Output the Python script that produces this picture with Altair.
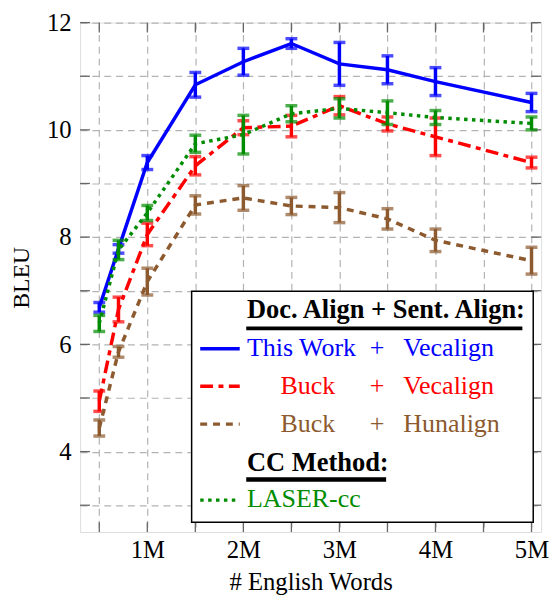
import altair as alt
import pandas as pd

# ---------------- data ----------------
words_m = [0.5, 0.7, 1, 1.5, 2, 2.5, 3, 3.5, 4, 5]

this_work_vecalign = [6.69, 7.78, 9.39, 10.84, 11.27, 11.61, 11.23, 11.12, 10.90, 10.51]
this_work_vecalign_err = [0.09, 0.08, 0.13, 0.23, 0.25, 0.09, 0.40, 0.26, 0.26, 0.17]

buck_vecalign = [4.94, 6.65, 8.05, 9.33, 10.04, 10.07, 10.45, 10.11, 9.87, 9.39]
buck_vecalign_err = [0.19, 0.23, 0.21, 0.17, 0.13, 0.20, 0.17, 0.13, 0.35, 0.10]

buck_hunalign = [4.44, 5.86, 7.17, 8.60, 8.73, 8.58, 8.55, 8.34, 7.94, 7.56]
buck_hunalign_err = [0.15, 0.10, 0.25, 0.17, 0.23, 0.16, 0.28, 0.19, 0.21, 0.25]

laser_cc = [6.39, 7.76, 8.45, 9.74, 9.91, 10.30, 10.40, 10.32, 10.23, 10.12]
laser_cc_err = [0.15, 0.18, 0.14, 0.16, 0.36, 0.15, 0.18, 0.22, 0.13, 0.12]

x_tick_values = [0.5, 1, 1.5, 2, 2.5, 3, 3.5, 4, 4.5, 5]
y_tick_values = [3, 4, 5, 6, 7, 8, 9, 10, 11, 12]

# ---------------- style ----------------
FONT = "Liberation Serif"
BLUE = "#0000ff"
RED = "#ff0000"
BROWN = "#8c5a2e"
GREEN = "#008c00"
TOP = 11
W, H = 467, 516
DY = -(16 - 8 - TOP)  # legend layout offset relative to the plot top

xscale = alt.Scale(domain=[0.3, 5.1], nice=False, zero=False)
yscale = alt.Scale(domain=[2.5, 12], nice=False, zero=False)

x_axis = alt.Axis(
    values=x_tick_values,
    labelExpr="datum.value % 1 === 0 ? datum.value + 'M' : ''",
    tickSize=0, domain=False, grid=True,
    gridDash=[7, 5], gridColor="#b3b3b3", gridWidth=1.2,
    labelFont=FONT, labelFontSize=25, labelColor="black", labelPadding=6,
    title="# English Words", titleFont=FONT, titleFontSize=25,
    titleFontWeight="normal", titleColor="black", titlePadding=7,
)
y_axis = alt.Axis(
    values=y_tick_values,
    labelExpr="datum.value % 2 === 0 ? datum.label : ''",
    tickSize=0, domain=False, grid=True,
    gridDash=[7, 5], gridColor="#b3b3b3", gridWidth=1.2,
    labelFont=FONT, labelFontSize=25, labelColor="black", labelPadding=9,
    title="BLEU", titleFont=FONT, titleFontSize=24,
    titleFontWeight="normal", titleColor="black", titlePadding=13,
)

X = alt.X("x:Q", scale=xscale, axis=x_axis)
Y = alt.Y("y:Q", scale=yscale, axis=y_axis)

series = [
    (this_work_vecalign, this_work_vecalign_err, BLUE, []),
    (buck_vecalign, buck_vecalign_err, RED, [13, 5.5, 5, 5.5]),
    (buck_hunalign, buck_hunalign_err, BROWN, [7, 6]),
    (laser_cc, laser_cc_err, GREEN, [3.5, 4.5]),
]

layers = []

# inner tick marks on all four sides
xt = pd.DataFrame({"x": x_tick_values})
yt = pd.DataFrame({"y": y_tick_values})
tick_style = dict(color="#666666", strokeWidth=1.3)
layers.append(alt.Chart(xt).mark_rule(**tick_style).encode(x=X, y=alt.value(H), y2=alt.value(H - 10)))
layers.append(alt.Chart(xt).mark_rule(**tick_style).encode(x=X, y=alt.value(0), y2=alt.value(10)))
layers.append(alt.Chart(yt).mark_rule(**tick_style).encode(y=Y, x=alt.value(0), x2=alt.value(10)))
layers.append(alt.Chart(yt).mark_rule(**tick_style).encode(y=Y, x=alt.value(W), x2=alt.value(W - 10)))

for vals, errs, color, dash in series:
    df = pd.DataFrame({
        "x": words_m,
        "y": vals,
        "lo": [v - e for v, e in zip(vals, errs)],
        "hi": [v + e for v, e in zip(vals, errs)],
    })
    base = alt.Chart(df)
    line_kw = dict(color=color, strokeWidth=3.5)
    if dash:
        line_kw["strokeDash"] = dash
    layers.append(base.mark_line(**line_kw).encode(x=X, y=Y))
    layers.append(base.mark_rule(color=color, strokeWidth=3.5).encode(
        x=X, y=alt.Y("lo:Q", scale=yscale, axis=y_axis), y2="hi:Q"))
    layers.append(base.mark_tick(color=color, orient="horizontal", size=12, thickness=3.5).encode(
        x=X, y=alt.Y("lo:Q", scale=yscale, axis=y_axis)))
    layers.append(base.mark_tick(color=color, orient="horizontal", size=12, thickness=3.5).encode(
        x=X, y=alt.Y("hi:Q", scale=yscale, axis=y_axis)))

# ---------------- custom legend ----------------
one = alt.Data(values=[{}])

def rule(x1, x2, y, color, width, dash=None):
    kw = dict(color=color, strokeWidth=width)
    if dash:
        kw["strokeDash"] = dash
    return alt.Chart(one).mark_rule(**kw).encode(
        x=alt.value(x1), x2=alt.value(x2), y=alt.value(y - DY))

def text(s, x, y, color, bold=False, align="left", size=26.3):
    return alt.Chart(one).mark_text(
        font=FONT, fontSize=size, color=color, align=align, baseline="alphabetic",
        fontWeight="bold" if bold else "normal",
    ).encode(x=alt.value(x), y=alt.value(y - DY), text=alt.value(s))

layers.append(alt.Chart(one).mark_rect(fill="white", stroke="black", strokeWidth=1.5).encode(
    x=alt.value(113), x2=alt.value(459), y=alt.value(275 - DY), y2=alt.value(509 - DY)))

layers.append(text("Doc. Align + Sent. Align:", 169, 302.3, "black", bold=True, size=26.8))
layers.append(rule(168.3, 448, 312.7, "black", 4))

rows = [
    ("This Work", 169, "Vecalign", BLUE, [], 340.7, 333.3),
    ("Buck", 203, "Vecalign", RED, [13, 5.5, 5, 5.5], 379, 371.3),
    ("Buck", 203, "Hunalign", BROWN, [7, 6], 417.3, 409.7),
]
for left, lx, right, color, dash, base_y, line_y in rows:
    layers.append(rule(121.7, 161.7, line_y, color, 3.5, dash or None))
    layers.append(text(left, lx, base_y, color))
    layers.append(text("+", 300.7, base_y, color, align="center"))
    layers.append(text(right, 327.3, base_y, color))

layers.append(text("CC Method:", 169, 456.7, "black", bold=True, size=26.8))
layers.append(rule(168.3, 310, 465.8, "black", 4.5))
layers.append(rule(121.7, 161.7, 486.7, GREEN, 3.5, [3.5, 4.5]))
layers.append(text("LASER-cc", 169, 494, GREEN))

chart = alt.layer(*layers).properties(
    width=W, height=H,
    autosize=alt.AutoSizeParams(type="none"),
    padding={"left": 73, "top": TOP, "right": 10, "bottom": 61},
).configure_view(
    stroke="#555555", strokeWidth=1.6,
).configure(background="white")

chart.save("out.html", embed_options={"renderer": "svg", "actions": False})
